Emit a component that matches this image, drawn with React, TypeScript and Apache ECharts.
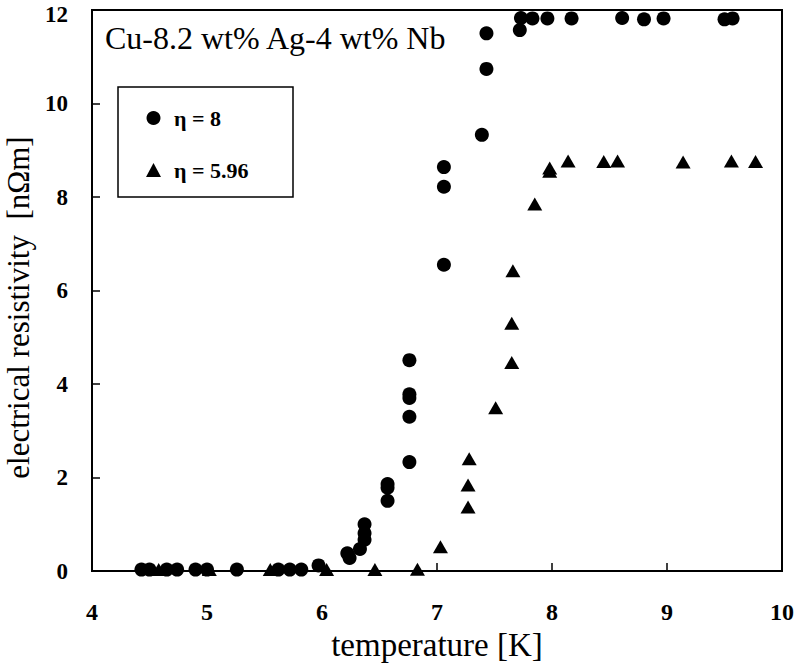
import React, { useEffect, useRef } from "react";
import * as echarts from "echarts";

const eta8Temp = [
  4.43, 4.5, 4.65, 4.74, 4.9, 5.0, 5.26, 5.62, 5.72, 5.82, 5.97,
  6.22, 6.24, 6.33, 6.37, 6.37, 6.37,
  6.57, 6.57, 6.57,
  6.76, 6.76, 6.76, 6.76, 6.76,
  7.06, 7.06, 7.06,
  7.39, 7.43, 7.43,
  7.72, 7.73, 7.83, 7.96, 8.17, 8.61, 8.8, 8.97, 9.5, 9.57,
];
const eta8Rho = [
  0.03, 0.03, 0.03, 0.03, 0.03, 0.03, 0.03, 0.03, 0.03, 0.03, 0.12,
  0.38, 0.28, 0.47, 1.0, 0.81, 0.67,
  1.86, 1.78, 1.5,
  4.51, 3.78, 3.7, 3.3, 2.33,
  8.64, 8.22, 6.55,
  9.33, 11.5, 10.74,
  11.57, 11.83, 11.82, 11.82, 11.82, 11.83, 11.8, 11.82, 11.8, 11.82,
];
const eta596Temp = [
  4.58, 5.02, 5.55, 6.04, 6.46, 6.83, 7.03, 7.27, 7.27, 7.28, 7.51,
  7.65, 7.65, 7.66, 7.85, 7.98, 7.98, 8.14, 8.45, 8.57, 9.14, 9.56, 9.77,
];
const eta596Rho = [
  0.03, 0.03, 0.03, 0.03, 0.03, 0.04, 0.52, 1.37, 1.84, 2.4, 3.49,
  4.46, 5.3, 6.42, 7.85, 8.55, 8.62, 8.77, 8.76, 8.77, 8.75, 8.77, 8.76,
];

const seriesNames = ["η = 8", "η = 5.96"];
const titleText = "Cu-8.2 wt% Ag-4 wt% Nb";
const xName = "temperature [K]";
const yName = "electrical resistivity  [nΩm]";
const yMax = 12;

const FONT = "'Liberation Serif', 'Times New Roman', serif";

export default function App() {
  const ref = useRef<HTMLDivElement>(null);
  useEffect(() => {
    if (!ref.current) return;
    const chart = echarts.init(ref.current, undefined, { renderer: "svg" });
    const zip = (xs: number[], ys: number[]) => xs.map((x, i) => [x, ys[i]]);
    chart.setOption({
      animation: false,
      backgroundColor: "#fff",
      title: {
        text: titleText,
        left: 105,
        top: 22,
        padding: 0,
        textStyle: { fontFamily: FONT, fontSize: 32, fontWeight: "normal", color: "#000" },
      },
      legend: {
        orient: "vertical",
        left: 141,
        top: 102,
        itemGap: 30,
        itemWidth: 15,
        itemHeight: 14,
        data: seriesNames,
        textStyle: {
          fontFamily: FONT,
          fontSize: 22,
          fontWeight: "bold",
          color: "#000",
          lineHeight: 22,
          padding: [0, 0, 0, 8],
        },
      },
      graphic: [
        {
          type: "rect",
          shape: { x: 118, y: 87, width: 175, height: 110 },
          style: { fill: "none", stroke: "#000", lineWidth: 1.5 },
          z: 10,
        },
      ],
      grid: {
        left: 92,
        right: 13,
        top: 10,
        bottom: 92,
        containLabel: false,
        outerBoundsMode: "none",
        show: true,
        borderColor: "#000",
        borderWidth: 2,
        backgroundColor: "transparent",
      },
      xAxis: {
        type: "value",
        min: 4,
        max: 10,
        interval: 1,
        name: xName,
        nameLocation: "middle",
        nameGap: 58,
        nameTextStyle: { fontFamily: FONT, fontSize: 33, color: "#000", lineHeight: 32 },
        axisLine: { show: true, lineStyle: { color: "#000", width: 2 } },
        axisTick: { show: true, inside: true, length: 8, lineStyle: { color: "#000", width: 1.5 } },
        axisLabel: { fontFamily: FONT, fontSize: 24, fontWeight: "bold", color: "#000", margin: 29 },
        splitLine: { show: false },
      },
      yAxis: {
        type: "value",
        min: 0,
        max: yMax,
        interval: 2,
        name: yName,
        nameLocation: "middle",
        nameGap: 44,
        nameTextStyle: { fontFamily: FONT, fontSize: 31, color: "#000", padding: [0, 34, 0, 0] },
        axisLine: { show: true, lineStyle: { color: "#000", width: 2 } },
        axisTick: { show: true, inside: true, length: 8, lineStyle: { color: "#000", width: 1.5 } },
        axisLabel: {
          fontFamily: FONT,
          fontSize: 23,
          fontWeight: "bold",
          color: "#000",
          margin: 24,
          formatter: (v: number) => (v === yMax ? "{top|" + v + "}" : String(v)),
          rich: {
            top: {
              fontFamily: FONT,
              fontSize: 23,
              fontWeight: "bold",
              color: "#000",
              padding: [8, 0, 0, 0],
            },
          },
        },
        splitLine: { show: false },
      },
      series: [
        {
          name: seriesNames[0],
          type: "scatter",
          symbol: "circle",
          symbolSize: 14,
          itemStyle: { color: "#000", opacity: 1 },
          data: zip(eta8Temp, eta8Rho),
        },
        {
          name: seriesNames[1],
          type: "scatter",
          symbol: "triangle",
          symbolSize: [15, 13],
          itemStyle: { color: "#000", opacity: 1 },
          data: zip(eta596Temp, eta596Rho),
        },
      ],
    });
    return () => chart.dispose();
  }, []);
  return <div ref={ref} style={{ width: 795, height: 663, position: "absolute", left: 0, top: 0 }} />;
}
